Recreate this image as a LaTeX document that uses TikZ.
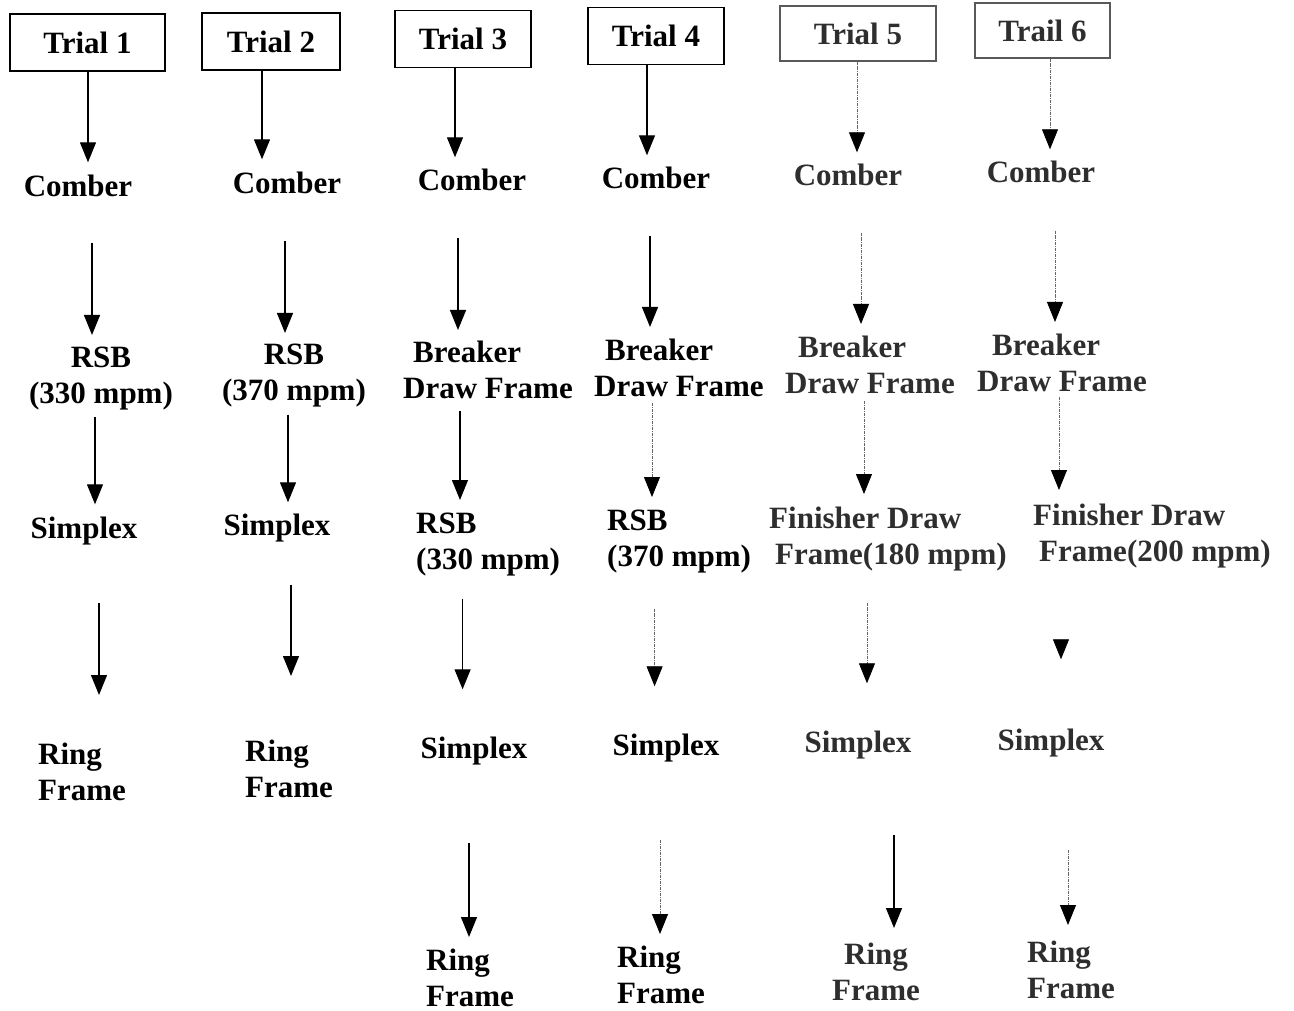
\documentclass[tikz,border=0pt]{standalone}
\usepackage{fontspec}
\setmainfont{Liberation Serif}
\usetikzlibrary{arrows.meta,positioning,calc}

\begin{document}
\begin{tikzpicture}[
    x=1pt, y=-1pt,
    every node/.style={
        inner sep=2pt,
        font=\fontsize{31}{36}\selectfont\bfseries
    },
    trialbox/.style={draw, line width=1.3pt, minimum height=57pt, inner sep=0pt},
    faint/.style={text=black!82},
    faintbox/.style={draw=black!65, line width=1.1pt, minimum height=55pt},
    flow/.style={
        -{Triangle[width=16pt,length=20pt,color=black]},
        line width=1.3pt, shorten >=10pt
    },
    dotflow/.style={flow, draw=black!60, line width=0.9pt, densely dash dot}
]
\useasboundingbox (0,0) rectangle (1294,1011);

% ---------------- Trial boxes ----------------
\node[trialbox, minimum width=155pt] (t1) at (87.5,42.5) {Trial 1};
\node[trialbox, minimum width=138pt] (t2) at (271,41.5) {Trial 2};
\node[trialbox, minimum width=136pt] (t3) at (463,39) {Trial 3};
\node[trialbox, minimum width=136pt] (t4) at (656,36) {Trial 4};
\node[faintbox, faint, minimum width=156pt] (t5) at (858,33.5) {Trial 5};
\node[faintbox, faint, minimum width=135pt] (t6) at (1042.5,30.5) {Trail 6};

% ---------------- Comber ----------------
\node[anchor=base] (c1) at (78,197) {Comber};
\node[anchor=base] (c2) at (287,194) {Comber};
\node[anchor=base] (c3) at (472,191) {Comber};
\node[anchor=base] (c4) at (656,189) {Comber};
\node[anchor=base, faint] (c5) at (848,186) {Comber};
\node[anchor=base, faint] (c6) at (1041,183) {Comber};

% ---------------- RSB / Breaker ----------------
\node[anchor=north, align=center] (r1) at (101,345) {RSB\\(330 mpm)};
\node[anchor=north, align=center] (r2) at (294,342) {RSB\\(370 mpm)};
\node[anchor=north west, align=left] (b3) at (401,339) {\hspace*{10pt}Breaker\\Draw Frame};
\node[anchor=north west, align=left] (b4) at (592,337) {\hspace*{11pt}Breaker\\Draw Frame};
\node[anchor=north west, align=left, faint] (b5) at (783,334) {\hspace*{13pt}Breaker\\Draw Frame};
\node[anchor=north west, align=left, faint] (b6) at (975,332) {\hspace*{15pt}Breaker\\Draw Frame};

% ---------------- Simplex / RSB / Finisher ----------------
\node[anchor=base] (s1) at (84,538) {Simplex};
\node[anchor=base] (s2) at (277,535) {Simplex};
\node[anchor=north west, align=left] (rs3) at (414,511) {RSB\\(330 mpm)};
\node[anchor=north west, align=left] (rs4) at (605,508) {RSB\\(370 mpm)};
\node[anchor=north west, align=left, faint] (f5) at (767,505) {Finisher Draw\\\hspace*{6pt}Frame(180 mpm)};
\node[anchor=north west, align=left, faint] (f6) at (1031,502) {Finisher Draw\\\hspace*{6pt}Frame(200 mpm)};

% ---------------- Ring Frame / Simplex ----------------
\node[anchor=north west, align=left] (g1) at (36,741) {Ring\\Frame};
\node[anchor=north west, align=left] (g2) at (243,738) {Ring\\Frame};
\node[anchor=base] (s3) at (474,758) {Simplex};
\node[anchor=base] (s4) at (666,755) {Simplex};
\node[anchor=base, faint] (s5) at (858,752) {Simplex};
\node[anchor=base, faint] (s6) at (1051,750) {Simplex};

% ---------------- Ring Frame ----------------
\node[anchor=north west, align=left] (g3) at (424,947) {Ring\\Frame};
\node[anchor=north west, align=left] (g4) at (615,944) {Ring\\Frame};
\node[anchor=north, align=center, faint] (g5) at (876,941) {Ring\\Frame};
\node[anchor=north west, align=left, faint] (g6) at (1025,939) {Ring\\Frame};

% ---------------- Trial 1 ----------------
\draw[flow, shorten >=11pt] ([xshift=0.5pt]t1.south) -- ([xshift=0.5pt]t1.south |- c1.north);
\draw[flow, shorten <=43pt] ([xshift=14pt]c1.south) -- ([xshift=14pt]c1.south |- r1.north);
\draw[flow, shorten <=4pt] ([xshift=-6pt]r1.south) -- ([xshift=-6pt]r1.south |- s1.north);
\draw[flow, shorten <=56pt, shorten >=46pt] ([xshift=15pt]s1.south) -- ([xshift=15pt]s1.south |- g1.north);

% ---------------- Trial 2 ----------------
\draw[flow, shorten >=11pt] ([xshift=-9pt]t2.south) -- ([xshift=-9pt]t2.south |- c2.north);
\draw[flow, shorten <=44pt, shorten >=9pt] ([xshift=-2pt]c2.south) -- ([xshift=-2pt]c2.south |- r2.north);
\draw[flow, shorten <=5pt, shorten >=9pt] ([xshift=-6pt]r2.south) -- ([xshift=-6pt]r2.south |- s2.north);
\draw[flow, shorten <=41pt, shorten >=62pt] ([xshift=14pt]s2.south) -- ([xshift=14pt]s2.south |- g2.north);

% ---------------- Trial 3 ----------------
\draw[flow] ([xshift=-8pt]t3.south) -- ([xshift=-8pt]t3.south |- c3.north);
\draw[flow, shorten <=44pt, shorten >=9pt] ([xshift=-14pt]c3.south) -- ([xshift=-14pt]c3.south |- b3.north);
\draw[flow, shorten <=10pt, shorten >=11pt] ([xshift=-28pt]b3.south) -- ([xshift=-28pt]b3.south |- rs3.north);
\draw[flow, shorten <=20pt, shorten >=45pt] ([xshift=-25.5pt]rs3.south) -- ([xshift=-25.5pt]rs3.south |- s3.north);
\draw[flow, shorten <=76pt] ([xshift=-5pt]s3.south) -- ([xshift=-5pt]s3.south |- g3.north);

% ---------------- Trial 4 ----------------
\draw[flow] ([xshift=-9pt]t4.south) -- ([xshift=-9pt]t4.south |- c4.north);
\draw[flow, shorten <=44pt] ([xshift=-6pt]c4.south) -- ([xshift=-6pt]c4.south |- b4.north);
\draw[dotflow, shorten <=4pt, shorten >=11pt] ([xshift=-27pt]b4.south) -- ([xshift=-27pt]b4.south |- rs4.north);
\draw[dotflow, shorten <=33pt, shorten >=45pt] ([xshift=-24.5pt]rs4.south) -- ([xshift=-24.5pt]rs4.south |- s4.north);
\draw[dotflow, shorten <=76pt] ([xshift=-6pt]s4.south) -- ([xshift=-6pt]s4.south |- g4.north);

% ---------------- Trial 5 ----------------
\draw[dotflow] ([xshift=-1pt]t5.south) -- ([xshift=-1pt]t5.south |- c5.north);
\draw[dotflow, shorten <=44pt] ([xshift=13pt]c5.south) -- ([xshift=13pt]c5.south |- b5.north);
\draw[dotflow, shorten <=5pt, shorten >=11pt] ([xshift=-6pt]b5.south) -- ([xshift=-6pt]b5.south |- f5.north);
\draw[dotflow, shorten <=29pt, shorten >=45pt] ([xshift=-21pt]f5.south) -- ([xshift=-21pt]f5.south |- s5.north);
\draw[flow, shorten <=74pt, shorten >=13pt] ([xshift=36pt]s5.south) -- ([xshift=36pt]s5.south |- g5.north);

% ---------------- Trail 6 ----------------
\draw[dotflow] ([xshift=7.5pt]t6.south) -- ([xshift=7.5pt]t6.south |- c6.north);
\draw[dotflow, shorten <=45pt] ([xshift=14pt]c6.south) -- ([xshift=14pt]c6.south |- b6.north);
\draw[dotflow, shorten <=3pt, shorten >=12pt] ([xshift=-3pt]b6.south) -- ([xshift=-3pt]b6.south |- f6.north);
\draw[dotflow, shorten <=72pt, shorten >=67pt] ([xshift=-91pt]f6.south) -- ([xshift=-91pt]f6.south |- s6.north);
\draw[dotflow, shorten <=91pt, shorten >=14pt] ([xshift=17pt]s6.south) -- ([xshift=17pt]s6.south |- g6.north);

\end{tikzpicture}
\end{document}
